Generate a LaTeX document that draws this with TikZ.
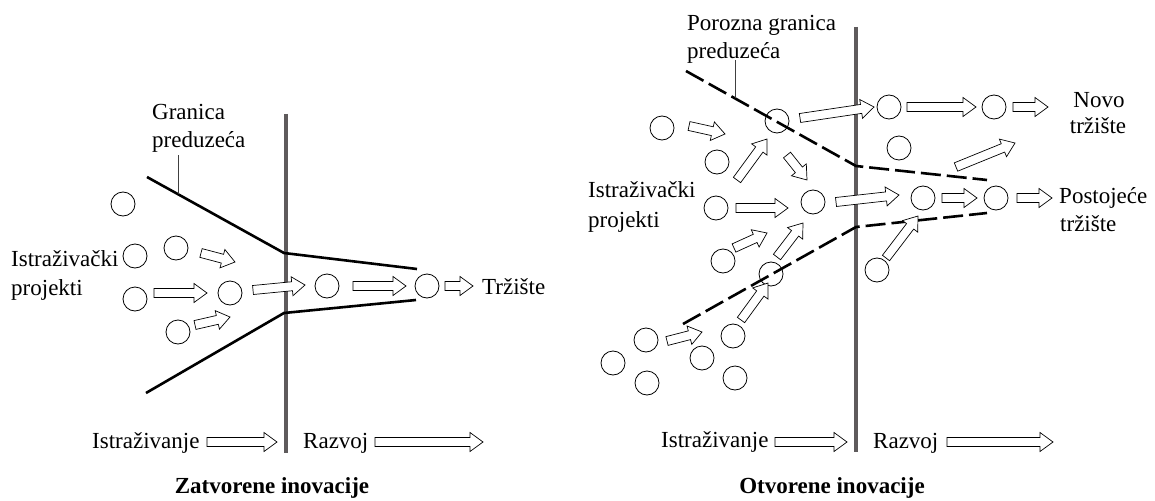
\documentclass[tikz,border=0pt]{standalone}
\usepackage{fontspec}
\setmainfont{Liberation Serif}
\usetikzlibrary{calc}
\definecolor{bargray}{HTML}{5F5B5C}
\tikzset{
  txt/.style={font=\fontsize{23}{28}\selectfont, inner sep=0pt, anchor=base west},
  txtc/.style={font=\fontsize{23}{28}\selectfont, inner sep=0pt, anchor=base},
  ttl/.style={font=\fontsize{23}{28}\selectfont\bfseries, inner sep=0pt, anchor=base},
  ci/.style={circle, draw, line width=0.8pt, minimum size=24pt, inner sep=0pt},
  arr/.style={draw, line width=0.7pt, fill=white, line join=miter},
  bnd/.style={line width=2.6pt},
  pbnd/.style={line width=2.6pt, dash pattern=on 20pt off 6pt},
  bar/.style={line width=4.5pt, bargray},
  tick/.style={line width=0.9pt, black!75},
}
\newcommand\blockarrow[2]{%
  \coordinate (ba-n) at ($(#2)!13pt!(#1)$);
  \draw[arr] ($(#1)!4.5pt!90:(#2)$) -- ($(ba-n)!4.5pt!90:(#2)$) -- ($(ba-n)!9.5pt!90:(#2)$) -- (#2)
    -- ($(ba-n)!9.5pt!-90:(#2)$) -- ($(ba-n)!4.5pt!-90:(#2)$) -- ($(#1)!4.5pt!-90:(#2)$) -- cycle;}
\begin{document}
\begin{tikzpicture}[x=1pt,y=-1pt]
\useasboundingbox (0,0) rectangle (1155,500);
% ================= LEFT: closed innovation =================
\coordinate (lbt) at (286,114);
\coordinate (lbb) at (286,453);
\draw[bar] (lbt) -- (lbb);
\coordinate (lu1) at (147,177);
\coordinate (lu2) at (284,253);
\coordinate (lu3) at (417,269);
\coordinate (ld1) at (146,393);
\coordinate (ld2) at (284,313);
\coordinate (ld3) at (416,300);
\draw[bnd] (lu1) -- (lu2) -- (lu3);
\draw[bnd] (ld1) -- (ld2) -- (ld3);
\node[txt] (lg1) at (152,120) {Granica};
\node[txt] (lg2) at (152,147) {preduzeća};
\coordinate (ltk1) at (178,155);
\coordinate (ltk2) at (178,194);
\draw[tick] (ltk1) -- (ltk2);
\node[txt] (lp1) at (11,266) {Istraživački};
\node[txt] (lp2) at (11,295) {projekti};
\node[txt] (ltr) at (482,294) {Tržište};
\node[ci] (L1) at (123,204) {};
\node[ci] (L2) at (135,256) {};
\node[ci] (L3) at (176,248) {};
\node[ci] (L4) at (135,299) {};
\node[ci] (L5) at (230,293) {};
\node[ci] (L6) at (178,332) {};
\node[ci] (L7) at (327,286) {};
\node[ci] (L8) at (427,286) {};
\coordinate (la1s) at (201,253); \coordinate (la1e) at (235,262);
\coordinate (la2s) at (154,293); \coordinate (la2e) at (207,293);
\coordinate (la3s) at (195,325); \coordinate (la3e) at (230,317);
\coordinate (la4s) at (253,290); \coordinate (la4e) at (305,285);
\coordinate (la5s) at (353,286); \coordinate (la5e) at (406,286);
\coordinate (la6s) at (445,286); \coordinate (la6e) at (473,286);
\blockarrow{la1s}{la1e}
\blockarrow{la2s}{la2e}
\blockarrow{la3s}{la3e}
\blockarrow{la4s}{la4e}
\blockarrow{la5s}{la5e}
\blockarrow{la6s}{la6e}
\node[txt] (lis) at (92,448) {Istraživanje};
\node[txt] (lrz) at (303,448) {Razvoj};
\coordinate (lb1s) at (207,442); \coordinate (lb1e) at (277,442);
\coordinate (lb2s) at (375,442); \coordinate (lb2e) at (483,442);
\blockarrow{lb1s}{lb1e}
\blockarrow{lb2s}{lb2e}
\node[ttl] (lttl) at (272,493) {Zatvorene inovacije};
% ================= RIGHT: open innovation =================
\coordinate (rbt) at (856,27);
\coordinate (rbb) at (856,452);
\draw[bar] (rbt) -- (rbb);
\coordinate (ru1) at (686,71);
\coordinate (ru2) at (856,166);
\coordinate (ru3) at (987,180);
\coordinate (rd1) at (683,324);
\coordinate (rd2) at (856,227);
\coordinate (rd3) at (987,213);
\draw[pbnd] (ru1) -- (ru2) -- (ru3);
\draw[pbnd] (rd1) -- (rd2) -- (rd3);
\node[txt] (rg1) at (687,31) {Porozna granica};
\node[txt] (rg2) at (687,59) {preduzeća};
\coordinate (rtk1) at (735,60);
\coordinate (rtk2) at (735,98);
\draw[tick] (rtk1) -- (rtk2);
\node[txt] (rp1) at (588,197) {Istraživački};
\node[txt] (rp2) at (588,227) {projekti};
\node[txtc] (rn1) at (1099,108) {Novo};
\node[txtc] (rn2) at (1098,133) {tržište};
\node[txt] (rpt1) at (1059,203) {Postojeće};
\node[txt] (rpt2) at (1060,231) {tržište};
\node[ci] (R1) at (662,128) {};
\node[ci] (R2) at (777,121) {};
\node[ci] (R3) at (717,162) {};
\node[ci] (R4) at (716,208) {};
\node[ci] (R5) at (813,202) {};
\node[ci] (R6) at (889,107) {};
\node[ci] (R7) at (994,107) {};
\node[ci] (R8) at (899,148) {};
\node[ci] (R9) at (923,198) {};
\node[ci] (R10) at (996,198) {};
\node[ci] (R11) at (877,270) {};
\node[ci] (R12) at (723,261) {};
\node[ci] (R13) at (771,274) {};
\node[ci] (R14) at (646,340) {};
\node[ci] (R15) at (613,363) {};
\node[ci] (R16) at (647,383) {};
\node[ci] (R17) at (702,358) {};
\node[ci] (R18) at (733,336) {};
\node[ci] (R19) at (735,378) {};
\coordinate (ra1s) at (689,126);  \coordinate (ra1e) at (725,134);
\coordinate (ra2s) at (737,180);  \coordinate (ra2e) at (767,139);
\coordinate (ra3s) at (787,155);  \coordinate (ra3e) at (807,180);
\coordinate (ra4s) at (736,208);  \coordinate (ra4e) at (788,208);
\coordinate (ra5s) at (800,118);  \coordinate (ra5e) at (874,107);
\coordinate (ra6s) at (836,202);  \coordinate (ra6e) at (899,195);
\coordinate (ra7s) at (907,107);  \coordinate (ra7e) at (976,107);
\coordinate (ra8s) at (1013,107); \coordinate (ra8e) at (1048,107);
\coordinate (ra9s) at (956,167);  \coordinate (ra9e) at (1015,143);
\coordinate (ra10s) at (942,198); \coordinate (ra10e) at (977,198);
\coordinate (ra11s) at (1017,198);\coordinate (ra11e) at (1052,198);
\coordinate (ra12s) at (886,258); \coordinate (ra12e) at (918,216);
\coordinate (ra13s) at (734,248); \coordinate (ra13e) at (767,233);
\coordinate (ra14s) at (777,257); \coordinate (ra14e) at (803,223);
\coordinate (ra15s) at (741,320); \coordinate (ra15e) at (768,283);
\coordinate (ra16s) at (667,341); \coordinate (ra16e) at (702,332);
\blockarrow{ra1s}{ra1e}
\blockarrow{ra2s}{ra2e}
\blockarrow{ra3s}{ra3e}
\blockarrow{ra4s}{ra4e}
\blockarrow{ra5s}{ra5e}
\blockarrow{ra6s}{ra6e}
\blockarrow{ra7s}{ra7e}
\blockarrow{ra8s}{ra8e}
\blockarrow{ra9s}{ra9e}
\blockarrow{ra10s}{ra10e}
\blockarrow{ra11s}{ra11e}
\blockarrow{ra12s}{ra12e}
\blockarrow{ra13s}{ra13e}
\blockarrow{ra14s}{ra14e}
\blockarrow{ra15s}{ra15e}
\blockarrow{ra16s}{ra16e}
\node[txt] (ris) at (661,447) {Istraživanje};
\node[txt] (rrz) at (873,448) {Razvoj};
\coordinate (rb1s) at (775,442); \coordinate (rb1e) at (847,442);
\coordinate (rb2s) at (947,442); \coordinate (rb2e) at (1053,442);
\blockarrow{rb1s}{rb1e}
\blockarrow{rb2s}{rb2e}
\node[ttl] (rttl) at (832,493) {Otvorene inovacije};
\end{tikzpicture}
\end{document}
